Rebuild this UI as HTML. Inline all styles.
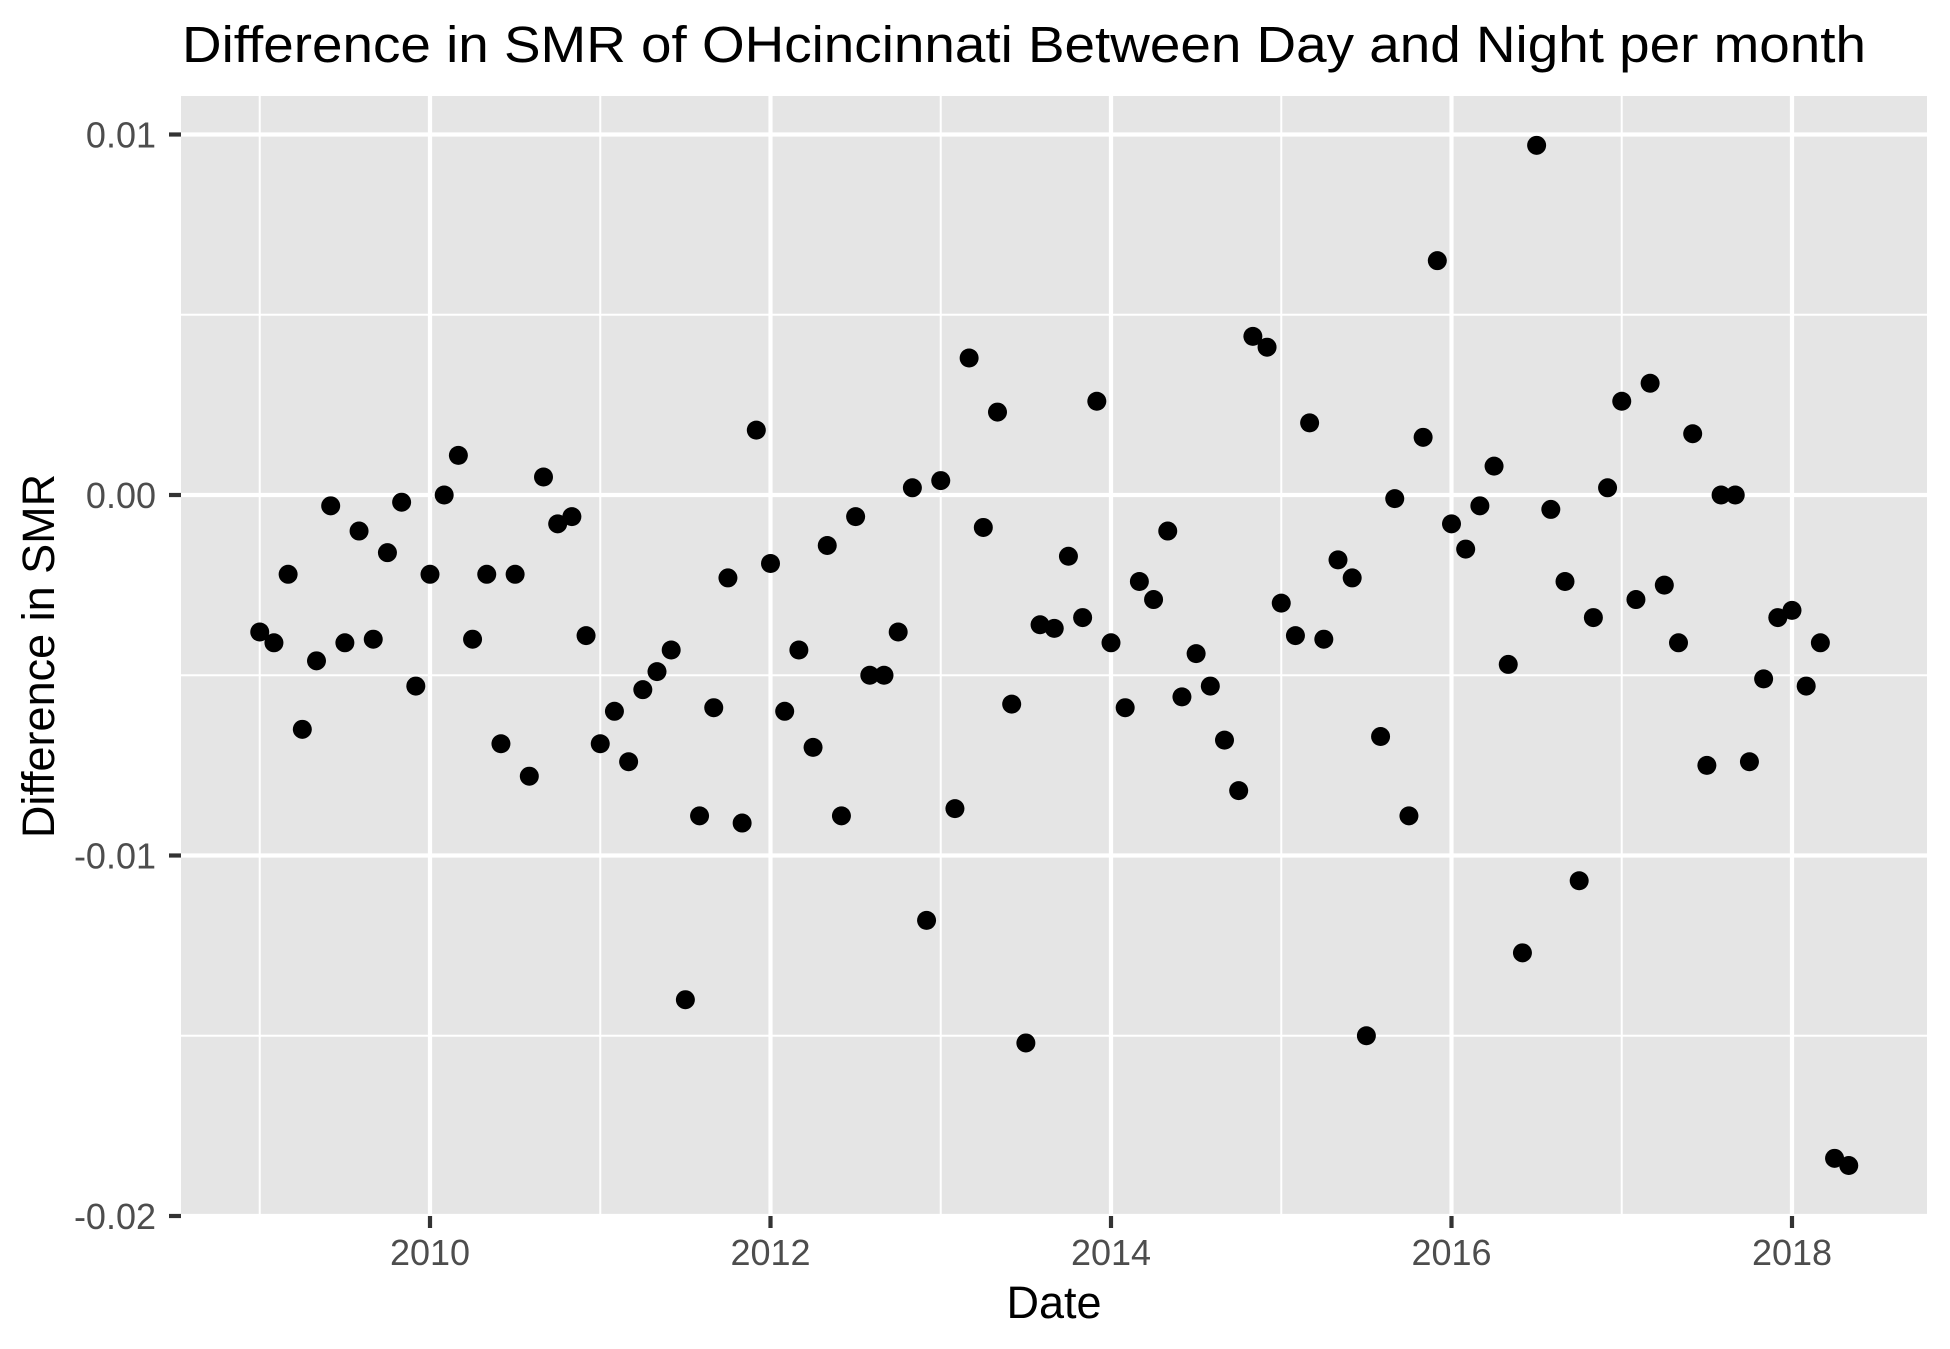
<!DOCTYPE html>
<html><head><meta charset="utf-8"><style>
html,body{margin:0;padding:0;background:#fff}
svg{display:block;font-family:"Liberation Sans",Arial,sans-serif}
</style></head><body>
<svg id="chart" width="1950" height="1349" viewBox="0 0 1950 1349" xmlns="http://www.w3.org/2000/svg">
<rect width="1950" height="1349" fill="#fff"/>
<text x="182" y="62" font-size="51" fill="#000" textLength="1684" lengthAdjust="spacingAndGlyphs">Difference in SMR of OHcincinnati Between Day and Night per month</text>
<rect x="181" y="96" width="1746" height="1120" fill="#e5e5e5"/>
<g id="grid"></g>
<g id="points"></g>
<g id="axes"></g>
<text x="1054" y="1318" font-size="45" text-anchor="middle" fill="#000">Date</text>
<text transform="translate(54,656) rotate(-90)" font-size="45" text-anchor="middle" fill="#000">Difference in SMR</text>
</svg>
<script>
const years = [2009,2010,2011,2012,2013,2014,2015,2016,2017,2018];
const startYear = 2009;
const values = [
-0.0038,-0.0041,-0.0022,-0.0065,-0.0046,-0.0003,-0.0041,-0.0010,-0.0040,-0.0016,-0.0002,-0.0053,
-0.0022,0.0000,0.0011,-0.0040,-0.0022,-0.0069,-0.0022,-0.0078,0.0005,-0.0008,-0.0006,-0.0039,
-0.0069,-0.0060,-0.0074,-0.0054,-0.0049,-0.0043,-0.0140,-0.0089,-0.0059,-0.0023,-0.0091,0.0018,
-0.0019,-0.0060,-0.0043,-0.0070,-0.0014,-0.0089,-0.0006,-0.0050,-0.0050,-0.0038,0.0002,-0.0118,
0.0004,-0.0087,0.0038,-0.0009,0.0023,-0.0058,-0.0152,-0.0036,-0.0037,-0.0017,-0.0034,0.0026,
-0.0041,-0.0059,-0.0024,-0.0029,-0.0010,-0.0056,-0.0044,-0.0053,-0.0068,-0.0082,0.0044,0.0041,
-0.0030,-0.0039,0.0020,-0.0040,-0.0018,-0.0023,-0.0150,-0.0067,-0.0001,-0.0089,0.0016,0.0065,
-0.0008,-0.0015,-0.0003,0.0008,-0.0047,-0.0127,0.0097,-0.0004,-0.0024,-0.0107,-0.0034,0.0002,
0.0026,-0.0029,0.0031,-0.0025,-0.0041,0.0017,-0.0075,0.0000,0.0000,-0.0074,-0.0051,-0.0034,
-0.0032,-0.0053,-0.0041,-0.0184,-0.0186
];
const xTicks = [2010,2012,2014,2016,2018];
const xTickLabels = ["2010","2012","2014","2016","2018"];
const xMinor = [2009,2011,2013,2015,2017];
const yTicks = [0.01,0,-0.01,-0.02];
const yTickLabels = ["0.01","0.00","-0.01","-0.02"];
const yMinor = [0.005,-0.005,-0.015];

const NS="http://www.w3.org/2000/svg";
const PL=181,PR=1927,PT=96,PB=1216;
function xScale(yr){return 430+(yr-2010)*170.25;}
function yScale(v){return 495-v*36050;}
function mk(tag,attrs,parent){const e=document.createElementNS(NS,tag);for(const k in attrs)e.setAttribute(k,attrs[k]);parent.appendChild(e);return e;}
const grid=document.getElementById('grid'),pts=document.getElementById('points'),axes=document.getElementById('axes');
yMinor.forEach(v=>{const l=mk('line',{x1:PL,x2:PR,y1:yScale(v),y2:yScale(v),stroke:'#fff','stroke-width':2},grid);

});
xMinor.forEach(v=>{const l=mk('line',{x1:xScale(v),x2:xScale(v),y1:PT,y2:PB,stroke:'#fff','stroke-width':2},grid);

});
yTicks.forEach((v,i)=>{const y=yScale(v);
const l=mk('line',{x1:PL,x2:PR,y1:y,y2:y,stroke:'#fff','stroke-width':4.2},grid);


const t=mk('line',{x1:169,x2:181,y1:y,y2:y,stroke:'#333','stroke-width':4.2},axes);


const tx=mk('text',{x:156,y:y+13,'font-size':36,'text-anchor':'end',fill:'#4d4d4d'},axes);tx.textContent=yTickLabels[i];

});
xTicks.forEach((v,i)=>{const x=xScale(v);
const l=mk('line',{x1:x,x2:x,y1:PT,y2:PB,stroke:'#fff','stroke-width':4.2},grid);


const t=mk('line',{x1:x,x2:x,y1:PB,y2:PB+12,stroke:'#333','stroke-width':4.2},axes);


const tx=mk('text',{x:x,y:1265,'font-size':36,'text-anchor':'middle',fill:'#4d4d4d'},axes);tx.textContent=xTickLabels[i];

});
values.forEach((v,i)=>{const yr=startYear+i/12;
const c=mk('circle',{cx:xScale(yr),cy:yScale(v),r:9.5,fill:'#000'},pts);

});
</script>
</body></html>
